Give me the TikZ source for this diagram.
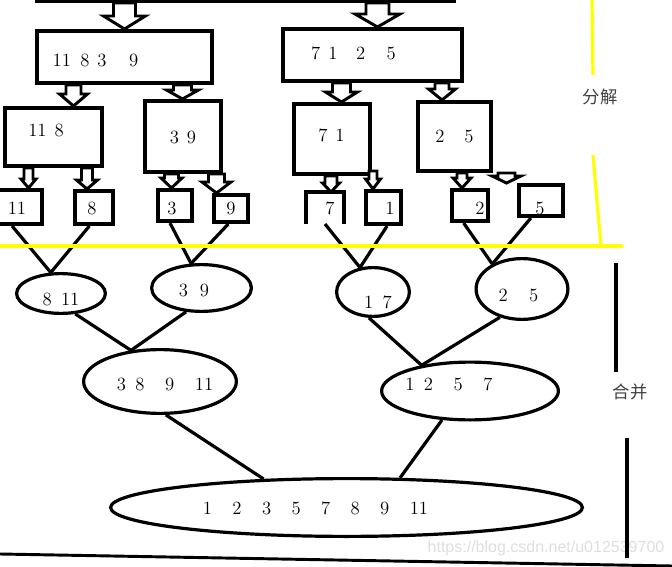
\documentclass[tikz,border=0pt]{standalone}
\usepackage{fontspec}
\newfontfamily\cjk{Noto Sans CJK SC}
\newfontfamily\wmfont{Liberation Sans}
\usetikzlibrary{calc,shapes.geometric}
\definecolor{MarkYellow}{RGB}{255,255,0}
\definecolor{MarkGrey}{RGB}{222,222,222}

\begin{document}
\begin{tikzpicture}[x=0.75pt, y=-0.75pt,
bx/.style 2 args={draw, line width=3pt, inner sep=0,
minimum width=(#1-4)*0.75pt, minimum height=(#2-4)*0.75pt},
ell/.style 2 args={draw, ellipse, line width=2.4pt, inner sep=0,
minimum width=(2*#1-3.2)*0.75pt, minimum height=(2*#2-3.2)*0.75pt},
num/.style={inner sep=0, font=\fontsize{14}{16}\selectfont},
link/.style={line width=2.4pt},
hollow/.style n args={3}{draw, fill=white, line width=2.2pt,
to path={let \p1=(\tikztostart), \p2=(\tikztotarget) in
(\x1-#1*0.75pt,\y1) -- (\x1-#1*0.75pt,\y2+#3*0.75pt) -- (\x1-#2*0.75pt,\y2+#3*0.75pt)
-- (\x1,\y2) -- (\x1+#2*0.75pt,\y2+#3*0.75pt) -- (\x1+#1*0.75pt,\y2+#3*0.75pt)
-- (\x1+#1*0.75pt,\y1) -- cycle}}]
\useasboundingbox (0,0) rectangle (672,567);
\clip (0,0) rectangle (672,567);

% split boxes
\node[bx={421}{36}] (top) at (245.5,-15) {};
\node[bx={179}{56}] (sL) at (124.5,57) {};
\node[bx={183}{56}] (sR) at (372.5,55) {};
\node[bx={101}{62}] (sLL) at (53.5,137) {};
\node[bx={80}{75}] (sLR) at (183,136.5) {};
\node[bx={80}{74}] (sRL) at (332,139) {};
\node[bx={77}{73}] (sRR) at (454.5,136.5) {};
\node[bx={50}{38}] (k11) at (19,207) {};
\node[bx={42}{37}] (k8) at (94,207.5) {};
\node[bx={38}{35}] (k3) at (175,205.5) {};
\node[bx={38}{31}] (k9) at (231,208.5) {};
\node[bx={42}{36}, draw=none, outer sep=0] (k7) at (325,208) {};
\draw[line width=3pt] (k7.south west) -- (k7.north west) -- (k7.north east) -- (k7.south east);
\node[bx={39}{37}] (k1) at (383.5,207.5) {};
\node[bx={40}{35}] (k2) at (470,205.5) {};
\node[bx={48}{35}] (k5) at (541,200.5) {};

% hollow arrows
\draw[hollow={11}{21}{13}] ($(top.south)+(-121,0)$) to (sL.north);
\draw[hollow={11.5}{22.5}{13}] ($(top.south)+(132,0)$) to (sR.north);
\draw[hollow={7.5}{14}{12}] ($(sL.south)+(-51,0)$) to (sLL.north);
\draw[hollow={9}{16}{9}] ($(sL.south)+(58,0)$) to (sLR.north);
\draw[hollow={9}{16}{10}] ($(sR.south)+(-31,0)$) to (sRL.north);
\draw[hollow={7}{13.5}{11}] ($(sR.south)+(69.5,0)$) to (sRR.north);
\draw[hollow={4.5}{7.5}{9}] ($(sLL.south)+(-25,0)$) to (k11.north);
\draw[hollow={5.5}{10.5}{9}] ($(sLL.south)+(33.5,0)$) to (k8.north);
\draw[hollow={7}{10.5}{10}] ($(sLR.south)+(-11.5,0)$) to (k3.north);
\draw[hollow={8}{14.5}{11}] ($(sLR.south)+(33.5,0)$) to (k9.north);
\draw[hollow={6}{8.5}{9}] ($(sRL.south)+(-1,0)$) to (k7.north);
\draw[hollow={4}{7.5}{10}] ($(sRL.south)+(41,-5)$) to (k1.north);
\draw[hollow={5}{9}{10}] ($(sRR.south)+(7.5,0)$) to (k2.north);
\draw[hollow={8.5}{14.5}{7}] ($(sRR.south)+(52,0)$) to (k5.north);

% merge ellipses
\node[ell={46}{21.5}] (m811) at (61,293.5) {};
\node[ell={51.5}{25}] (m39) at (201.5,288) {};
\node[ell={38}{26}] (m17) at (373,292) {};
\node[ell={47.5}{32}] (m25) at (522,289) {};
\node[ell={78}{33.5}] (m3891) at (160,381.5) {};
\node[ell={90}{30.5}] (m1257) at (470,391) {};
\node[ell={237.5}{30.5}] (mall) at (346.5,507.5) {};

\draw[link] (k11.-110) -- (m811.116);
\draw[link] (k8.-104) -- (m811.116);
\draw[link] (k3.-106) -- (m39.113);
\draw[link] (k9.-100) -- (m39.113);
\draw[link] (k7.south) -- (m17.118);
\draw[link] (k1.-79) -- (m17.118);
\draw[link] (k2.-110) -- (m25.140);
\draw[link] (k5.-120) -- (m25.140);
\draw[link] (m811.-55) -- (m3891.133);
\draw[link] (m39.-123) -- (m3891.133);
\draw[link] (m17.-99) -- (m1257.152);
\draw[link] (m25.-128) -- (m1257.152);
\draw[link] (m3891.-80) -- (mall.161);
\draw[link] (m1257.-134) -- (mall.29);

% numbers
\node[num] (tL) at (95.5,60) {11\hspace{7pt}8\hspace{6pt}3\hspace{17pt}9};
\node[num] (tR) at (353.5,53) {7\hspace{6pt}1\hspace{14pt}2\hspace{16pt}5};
\node[num] (tLL) at (46,130) {11\hspace{6pt}8};
\node[num] (tLR) at (183,137) {3\hspace{6pt}9};
\node[num] (tRL) at (331.5,135) {7\hspace{6pt}1};
\node[num] (tRR) at (454.5,136) {2\hspace{15pt}5};
\node[num] (t11) at (17,208) {11};
\node[num] (t8) at (92,208) {8};
\node[num] (t3) at (172,208) {3};
\node[num] (t9) at (231,208) {9};
\node[num] (t7) at (330,208) {7};
\node[num] (t1) at (390,208) {1};
\node[num] (t2) at (480,208) {2};
\node[num] (t5) at (540,208) {5};
\node[num] (u811) at (61,299) {8\hspace{7pt}11};
\node[num] (u39) at (194,290) {3\hspace{9pt}9};
\node[num] (u17) at (378,302) {1\hspace{7pt}7};
\node[num] (u25) at (518.5,295) {2\hspace{16pt}5};
\node[num] (u3891) at (165,384) {3\hspace{7pt}8\hspace{15.5pt}9\hspace{15.5pt}11};
\node[num] (u1257) at (449,384) {1\hspace{7pt}2\hspace{15.5pt}5\hspace{15.5pt}7};
\node[num] (uall) at (315.5,508) {1\hspace{15.3pt}2\hspace{15.3pt}3\hspace{15.3pt}5\hspace{15.3pt}7\hspace{15.3pt}8\hspace{15.3pt}9\hspace{15.3pt}11};

% side marks
\node[inner sep=0, font=\wmfont\fontsize{12}{14}\selectfont, text=MarkGrey] (wm) at (546,548) {https://blog.csdn.net/u012539700};
\draw[MarkYellow, line width=2.4pt] (592,0) -- (593,75);
\draw[MarkYellow, line width=2.4pt] (593,155) -- (601,246);
\draw[MarkYellow, line width=2.4pt] (0,246) -- (623,246);
\node[inner sep=0, font=\cjk\fontsize{13}{15}\selectfont, text=black!75] (lsplit) at (600,97) {分解};
\draw[line width=2.4pt] (616,263) -- (616,372);
\node[inner sep=0, font=\cjk\fontsize{13}{15}\selectfont, text=black!75] (lmerge) at (630,392) {合并};
\draw[line width=2.4pt] (627,438) -- (627,558);
\draw[line width=2.2pt] (0,554) -- (672,566);
\end{tikzpicture}
\end{document}
